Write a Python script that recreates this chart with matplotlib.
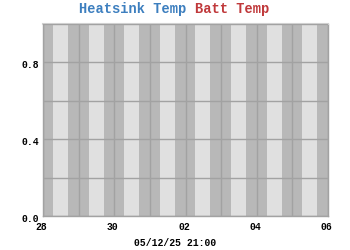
import matplotlib
matplotlib.use("Agg")
import matplotlib.pyplot as plt
from matplotlib.ticker import FixedLocator
import matplotlib.transforms as mtransforms

# Data
days = [0, 1, 2, 3, 4, 5, 6, 7]             # day index starting 28 Apr 2025
day_labels = ['28', '30', '02', '04', '06']  # labels every 2 days
label_days = [0, 2, 4, 6, 8]
daylight_start = 0.28                        # fraction of day
daylight_end = 0.70
heatsink_x, heatsink_y = [], []              # no data
batt_x, batt_y = [], []                      # no data
y_major = [0.0, 0.4, 0.8]
y_minor = [0.2, 0.6, 1.0]
y_labels = ['0.0', '0.4', '0.8']
xlabel_text = '05/12/25 21:00'

MONO = ['Liberation Mono', 'DejaVu Sans Mono']
DARK = '#b8b8b8'
LIGHT = '#e0e0e0'
GRID = '#a2a2a2'

fig = plt.figure(figsize=(3.5, 2.5), dpi=100)
fig.patch.set_facecolor('white')
ax = fig.add_axes([43/350, 34/250, 285/350, 192/250])
ax.set_facecolor(DARK)

for d in days:
    ax.axvspan(d + daylight_start, d + daylight_end, color=LIGHT, lw=0, zorder=0)

ax.plot(heatsink_x, heatsink_y, color='#3d7fbf')
ax.plot(batt_x, batt_y, color='#c0393b')

ax.set_xlim(0, 8)
ax.set_ylim(0, 1)

ax.xaxis.set_major_locator(FixedLocator(label_days))
ax.set_xticklabels(day_labels)
ax.xaxis.set_minor_locator(FixedLocator(days + [8]))
ax.yaxis.set_major_locator(FixedLocator(y_major))
ax.set_yticklabels(y_labels)
ax.yaxis.set_minor_locator(FixedLocator(y_minor))

ax.grid(True, which='both', color=GRID, lw=1.0, zorder=1)
ax.set_axisbelow(False)
ax.tick_params(which='both', length=0)
ax.tick_params(axis='y', pad=2.9)
ax.tick_params(axis='x', pad=4.2)
off_y = mtransforms.ScaledTranslation(0, -1.5/100, fig.dpi_scale_trans)
off_x = mtransforms.ScaledTranslation(-1.5/100, 0, fig.dpi_scale_trans)
for lab in ax.get_xticklabels() + ax.get_yticklabels():
    lab.set_family(MONO)
    lab.set_fontweight('bold')
    lab.set_fontsize(7)
for lab in ax.get_yticklabels():
    lab.set_transform(lab.get_transform() + off_y)
for lab in ax.get_xticklabels():
    lab.set_transform(lab.get_transform() + off_x)

for s in ['left', 'right', 'bottom']:
    ax.spines[s].set_color(GRID)
    ax.spines[s].set_linewidth(1.0)
ax.spines['top'].set_color('#d0d0d0')
ax.spines['top'].set_linewidth(1.5)

fig.text(79/350, 1 - 13/250, 'Heatsink Temp', color='#3d7fbf', family=MONO,
         fontweight='bold', fontsize=9.9, ha='left', va='baseline')
fig.text(195/350, 1 - 13/250, 'Batt Temp', color='#c0393b', family=MONO,
         fontweight='bold', fontsize=9.9, ha='left', va='baseline')
fig.text(175/350, 1 - 246/250, xlabel_text, color='black', family=MONO,
         fontweight='bold', fontsize=7, ha='center', va='baseline')

fig.savefig('out.png', dpi=100)
